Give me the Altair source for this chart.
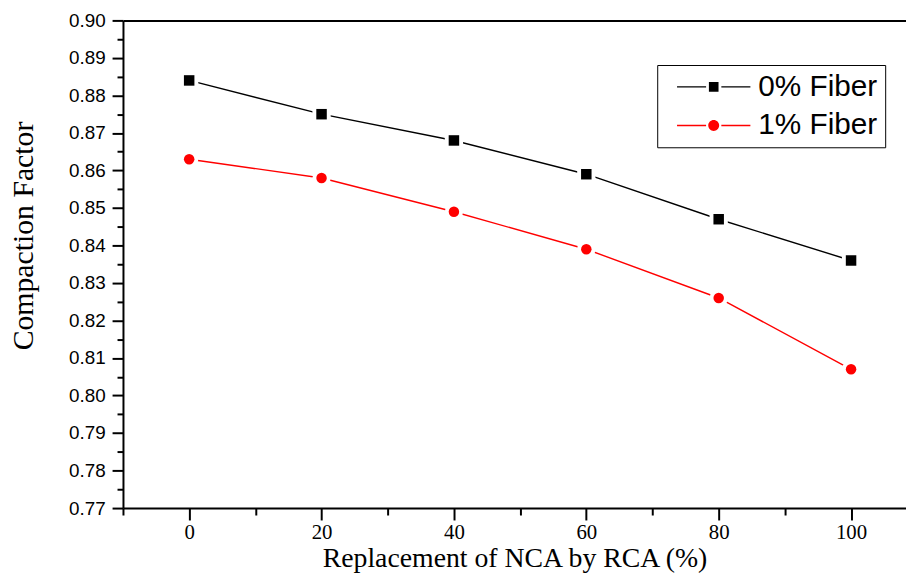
import altair as alt
import pandas as pd

# ---- data ----
x_vals = [0, 20, 40, 60, 80, 100]
fiber0 = [0.884, 0.875, 0.868, 0.859, 0.847, 0.836]
fiber1 = [0.863, 0.858, 0.849, 0.839, 0.826, 0.807]
series_names = ["0% Fiber", "1% Fiber"]
series_colors = ["#000000", "#ff0000"]
series_shapes = ["square", "circle"]

x_major = [0, 20, 40, 60, 80, 100]
x_minor = [-10, 10, 30, 50, 70, 90]
y_major = [0.77, 0.78, 0.79, 0.80, 0.81, 0.82, 0.83, 0.84, 0.85, 0.86, 0.87, 0.88, 0.89, 0.90]
y_minor = [0.775, 0.785, 0.795, 0.805, 0.815, 0.825, 0.835, 0.845, 0.855, 0.865, 0.875, 0.885, 0.895]

x_title = "Replacement of NCA by RCA (%)"
y_title = "Compaction Factor"

rows = []
for name, vals in zip(series_names, [fiber0, fiber1]):
    for xv, yv in zip(x_vals, vals):
        rows.append({"x": xv, "y": yv, "series": name})
df = pd.DataFrame(rows)

SANS = "Liberation Sans"
SERIF = "Liberation Serif"

xscale = alt.Scale(domain=[-10, 108.3], nice=False, zero=False)
yscale = alt.Scale(domain=[0.77, 0.90], nice=False, zero=False)
cscale = alt.Scale(domain=series_names, range=series_colors)
sscale = alt.Scale(domain=series_names, range=series_shapes)

# legend symbols: thin filled bars (the line) with the marker in the middle,
# custom path in units of 5 px (symbolSize 100)
PATH0 = ("M-7.4,-0.13H-1.54V0.13H-7.4Z M1.54,-0.13H7.4V0.13H1.54Z "
         "M-0.97,-0.97H0.97V0.97H-0.97Z")
PATH1 = ("M-7.4,-0.15H-1.54V0.15H-7.4Z M1.54,-0.15H7.4V0.15H1.54Z "
         "M1.1,0A1.1,1.1,0,1,1,-1.1,0A1.1,1.1,0,1,1,1.1,0Z")
legend_shape_scale = alt.Scale(domain=series_names, range=[PATH0, PATH1])
legend_fill_scale = alt.Scale(domain=series_names, range=series_colors)

legend = alt.Legend(
    orient="none", legendX=539, legendY=45, title=None,
    labelFont=SANS, labelFontSize=30, labelColor="black",
    labelExpr="datum.label + '\u00a0'", labelLimit=400,
    strokeColor="black", padding=7, rowPadding=9,
    symbolSize=100, symbolOffset=35, labelOffset=30,
    symbolStrokeWidth=0, symbolOpacity=1, symbolFillColor="black",
)

x_major_axis = alt.Axis(
    orient="bottom", values=x_major, format="d", tickSize=12, tickWidth=2,
    domainWidth=2, labelFont=SERIF, labelFontSize=21, labelPadding=2,
    title=x_title, titleFont=SERIF, titleFontSize=28, titleFontWeight="normal",
    titleBaseline="alphabetic", titleY=59, grid=False,
)
y_major_axis = alt.Axis(
    orient="left", values=y_major, format=".2f", tickSize=11, tickWidth=2,
    domainWidth=2, labelFont=SANS, labelFontSize=19, labelPadding=7,
    title=y_title, titleFont=SERIF, titleFontSize=30, titleFontWeight="normal",
    titleBaseline="alphabetic", titleX=-91, titleY=217, titleAngle=270,
    grid=False,
)
x_minor_axis = alt.Axis(
    orient="bottom", values=x_minor, tickSize=7, tickWidth=2, labels=False,
    domain=False, title=None, grid=False,
)
y_minor_axis = alt.Axis(
    orient="left", values=y_minor, tickSize=6, tickWidth=2, labels=False,
    domain=False, title=None, grid=False,
)
x_top_axis = alt.Axis(
    orient="top", ticks=False, labels=False, domain=True, domainWidth=2,
    title=None, grid=False,
)

base = alt.Chart(df)

lines = base.mark_line(strokeWidth=1.4).encode(
    x=alt.X("x:Q", scale=xscale, axis=x_major_axis),
    y=alt.Y("y:Q", scale=yscale, axis=y_major_axis),
    color=alt.Color("series:N", scale=cscale, legend=None),
    detail="series:N",
)

halo = base.mark_point(filled=True, opacity=1, color="white").encode(
    x=alt.X("x:Q", scale=xscale, axis=x_minor_axis),
    y=alt.Y("y:Q", scale=yscale, axis=y_minor_axis),
    shape=alt.Shape("series:N", scale=sscale, legend=None),
    size=alt.value(340),
)

points = base.mark_point(filled=True, opacity=1).encode(
    x=alt.X("x:Q", scale=xscale, axis=x_top_axis),
    y=alt.Y("y:Q", scale=yscale, axis=None),
    color=alt.Color("series:N", scale=cscale, legend=None),
    shape=alt.Shape("series:N", scale=sscale, legend=None),
    size=alt.value(112),
)

legend_layer = base.transform_filter("false").mark_point(filled=True, opacity=1).encode(
    x=alt.X("x:Q", scale=xscale, axis=None),
    y=alt.Y("y:Q", scale=yscale, axis=None),
    fill=alt.Fill("series:N", scale=legend_fill_scale, legend=legend),
    shape=alt.Shape("series:N", scale=legend_shape_scale, legend=legend),
)

chart = (
    alt.layer(lines, halo, points, legend_layer)
    .resolve_axis(x="independent", y="independent")
    .resolve_scale(shape="independent", fill="independent")
    .properties(
        width=790, height=492,
        autosize=alt.AutoSizeParams(type="none"),
        padding={"left": 116, "top": 10, "right": 0, "bottom": 65},
        background="white",
    )
    .configure_view(stroke=None)
    .configure_axis(domainColor="black", tickColor="black", labelColor="black", titleColor="black")
)

chart.save("out.html", embed_options={"renderer": "svg", "actions": False})
